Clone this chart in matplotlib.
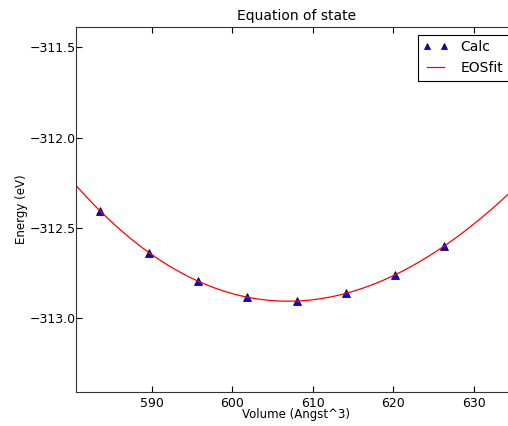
import numpy as np
import matplotlib
matplotlib.use("Agg")
import matplotlib.pyplot as plt

# volumenes calculados y energias totales
volumen = [583.6, 589.7, 595.8, 601.9, 608.0, 614.1, 620.2, 626.3]
energia = [-312.407, -312.638, -312.795, -312.885, -312.907, -312.863, -312.760, -312.603]

v_min, v_max = 580.63, 635.34

plt.rcParams['xtick.direction'] = 'in'
plt.rcParams['ytick.direction'] = 'in'
plt.rcParams['xtick.top'] = True
plt.rcParams['ytick.right'] = True
plt.rcParams['xtick.major.size'] = 4
plt.rcParams['ytick.major.size'] = 4

fig = plt.figure(figsize=(5.08, 4.26), dpi=100)
ax = fig.add_axes([0.150, 0.0805, 0.867, 0.8554])

# ajuste cubico de la ecuacion de estado
coef = np.polyfit(volumen, energia, 3)
v_fit = np.linspace(v_min, v_max, 200)
e_fit = np.polyval(coef, v_fit)

ax.plot(volumen, energia, '^', color='blue', markeredgecolor='black',
        markeredgewidth=0.5, markersize=6, label='Calc')
ax.plot(v_fit, e_fit, '-', color='red', linewidth=0.9, label='EOSfit')

ax.set_xlim(v_min, v_max)
ax.set_ylim(-313.408, -311.389)
ax.set_xticks([590, 600, 610, 620, 630])
ax.set_yticks([-311.5, -312.0, -312.5, -313.0])
ax.tick_params(axis='y', labelsize=9, pad=0.5)
ax.tick_params(axis='x', labelsize=9, pad=3.5)

ax.set_title("Equation of state", fontsize=10, pad=5)
ax.set_xlabel("Volume (Angst^3)", fontsize=8.5, labelpad=-1)
ax.set_ylabel("Energy (eV)", fontsize=8.5, labelpad=1)

leg = ax.legend(loc='upper left', bbox_to_anchor=(0.7752, 0.9797),
                borderaxespad=0, numpoints=2, fontsize=10, fancybox=False,
                framealpha=1, handlelength=1.8, handletextpad=0.9)
leg.get_frame().set_edgecolor('black')
leg.get_frame().set_linewidth(0.8)
for h in leg.legend_handles:
    h.set_markersize(4.5)

for s in ax.spines.values():
    s.set_color('#333333')

fig.savefig("out.png", dpi=100)
